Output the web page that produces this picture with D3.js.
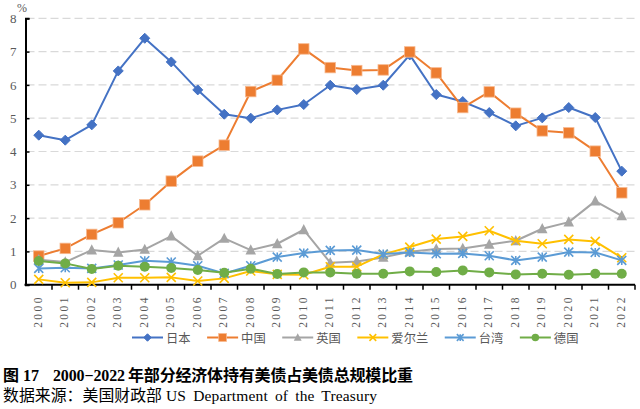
<!DOCTYPE html>
<html><head><meta charset="utf-8">
<script src="https://cdn.jsdelivr.net/npm/d3@7"></script>
<style>
html,body{margin:0;padding:0;background:#fff;}
svg{display:block;}
</style></head>
<body>
<svg id="chart" width="640" height="409"></svg>
<script>
const years = ["2000","2001","2002","2003","2004","2005","2006","2007","2008","2009","2010","2011","2012","2013","2014","2015","2016","2017","2018","2019","2020","2021","2022"];
const japan   = [4.49,4.34,4.80,6.42,7.40,6.69,5.85,5.12,5.00,5.25,5.41,5.99,5.86,5.99,6.90,5.71,5.50,5.17,4.77,5.01,5.32,5.02,3.41];
const china   = [0.86,1.09,1.51,1.86,2.40,3.11,3.71,4.19,5.80,6.14,7.08,6.52,6.43,6.45,6.99,6.36,5.32,5.79,5.15,4.62,4.56,4.01,2.76];
const uk      = [0.75,0.68,1.04,0.97,1.06,1.46,0.87,1.39,1.04,1.23,1.65,0.66,0.70,0.82,0.99,1.07,1.09,1.21,1.32,1.68,1.88,2.51,2.07];
const ireland = [0.16,0.06,0.07,0.21,0.21,0.22,0.11,0.19,0.41,0.31,0.30,0.54,0.54,0.91,1.13,1.37,1.45,1.62,1.32,1.23,1.36,1.30,0.81];
const taiwan  = [0.49,0.51,0.49,0.59,0.72,0.68,0.57,0.34,0.57,0.83,0.95,1.03,1.04,0.92,0.97,0.93,0.94,0.87,0.73,0.83,0.98,0.97,0.73];
const germany = [0.71,0.64,0.47,0.57,0.54,0.50,0.44,0.36,0.48,0.32,0.37,0.37,0.33,0.33,0.40,0.38,0.43,0.37,0.31,0.33,0.30,0.33,0.33];
const seriesNames = ["日本","中国","英国","爱尔兰","台湾","德国"];
const yTicks = [0,1,2,3,4,5,6,7,8];
const titleParts = ["图 17", "2000−2022", "年部分经济体持有美债占美债总规模比重"];
const sourceParts = ["数据来源：美国财政部", "US Department of the Treasury"];

const seriesData = [japan, china, uk, ireland, taiwan, germany];
const colors = ["#4472C4","#ED7D31","#A5A5A5","#FFC000","#5B9BD5","#70AD47"];
const markers = ["diamond","square","triangle","x","asterisk","circle"];

const svg = d3.select("#chart");
const x = d3.scaleBand().domain(years).range([25.5, 635]).padding(0);
const y = d3.scaleLinear().domain([0, 8]).range([284.7, 18.3]);
const cx = d => x(d) + x.bandwidth()/2;

// gridlines
svg.append("g").selectAll("line").data(yTicks.filter(t => t > 0)).join("line")
  .attr("x1", 26.5).attr("x2", 635)
  .attr("y1", d => y(d)).attr("y2", d => y(d))
  .attr("stroke", "#d9d9d9").attr("stroke-width", 1.2).attr("stroke-dasharray", "8,4");

// y axis
const yAxis = d3.axisLeft(y).tickValues(yTicks).tickSize(-4).tickPadding(9).tickFormat(d3.format("d"));
const gy = svg.append("g").attr("transform", "translate(25.5,0)").call(yAxis);
gy.select(".domain").attr("stroke", "#000").attr("stroke-width", 2);
gy.selectAll(".tick line").attr("stroke", "#000").attr("stroke-width", 1.5);
gy.selectAll(".tick text").attr("font-family", "'Liberation Serif', serif").attr("font-size", 13).attr("fill", "#595959");
svg.append("text").attr("x", 17).attr("y", 12).text("%")
  .attr("font-family", "'Liberation Serif', serif").attr("font-size", 12).attr("fill", "#595959");

// x axis
const gx = svg.append("g").attr("transform", "translate(0,284.7)");
gx.append("line").attr("x1", 24.5).attr("x2", 635).attr("stroke", "#000").attr("stroke-width", 2);
gx.selectAll("line.tk").data(years).join("line").attr("class","tk")
  .attr("x1", d => x(d) + x.bandwidth()).attr("x2", d => x(d) + x.bandwidth())
  .attr("y1", 0).attr("y2", 5).attr("stroke", "#000").attr("stroke-width", 1.5);
gx.selectAll("text").data(years).join("text")
  .attr("transform", d => `translate(${cx(d)+0.5},10.5) rotate(-90)`)
  .attr("text-anchor", "end").attr("dominant-baseline", "middle")
  .attr("font-family", "'Liberation Serif', serif").attr("font-size", 11.5).attr("letter-spacing", "2.4px")
  .attr("fill", "#595959").text(d => d);

// marker drawing
function drawMarker(g, type, color, size) {
  const s = size;
  if (type === "diamond") {
    g.append("path").attr("d", `M0,${-s/2}L${s/2},0L0,${s/2}L${-s/2},0Z`).attr("fill", color).attr("stroke", color).attr("stroke-width", 1);
  } else if (type === "square") {
    g.append("rect").attr("x", -s/2).attr("y", -s/2).attr("width", s).attr("height", s).attr("fill", color).attr("stroke", "#f7b98f").attr("stroke-width", 0.8);
  } else if (type === "triangle") {
    g.append("path").attr("d", `M0,${-s*0.55}L${s/2},${s*0.42}L${-s/2},${s*0.42}Z`).attr("fill", color);
  } else if (type === "x") {
    const h = s/2;
    g.append("path").attr("d", `M${-h},${-h}L${h},${h}M${-h},${h}L${h},${-h}`).attr("stroke", color).attr("stroke-width", 1.6).attr("fill","none");
  } else if (type === "asterisk") {
    const h = s/2;
    g.append("path").attr("d", `M${-h},${-h}L${h},${h}M${-h},${h}L${h},${-h}M0,${-h}L0,${h}`).attr("stroke", color).attr("stroke-width", 1.6).attr("fill","none");
  } else if (type === "circle") {
    g.append("circle").attr("r", s/2).attr("fill", color);
  }
}
const markerSizes = [10, 10.5, 10.5, 9, 9, 10];

// series
const line = d3.line().x((d,i) => cx(years[i])).y(d => y(d));
seriesData.forEach((vals, si) => {
  const g = svg.append("g");
  g.append("path").datum(vals).attr("d", line).attr("fill", "none")
    .attr("stroke", colors[si]).attr("stroke-width", 2).attr("stroke-linejoin", "round");
  vals.forEach((v, i) => {
    const mg = g.append("g").attr("transform", `translate(${cx(years[i])},${y(v)})`);
    drawMarker(mg, markers[si], colors[si], markerSizes[si]);
  });
});

// legend
const legend = svg.append("g").attr("transform", "translate(0,337.5)");
let lx = 132;
seriesNames.forEach((name, si) => {
  const g = legend.append("g").attr("transform", `translate(${lx},0)`);
  g.append("line").attr("x1", 0).attr("x2", 31).attr("stroke", colors[si]).attr("stroke-width", 2);
  const mg = g.append("g").attr("transform", "translate(15.5,0)");
  drawMarker(mg, markers[si], colors[si], markerSizes[si]*0.75);
  const t = g.append("text").attr("x", 34).attr("y", 0).attr("dominant-baseline", "central")
    .attr("font-family", "'Noto Sans CJK SC', sans-serif").attr("font-size", 12.3).attr("fill", "#595959").text(name);
  lx += 34 + t.node().getComputedTextLength() + 16.5;
});

// title
const tAttrs = sel => sel.attr("y", 380.5).attr("font-size", 16).attr("font-weight", "bold").attr("fill", "#000");
svg.append("text").call(tAttrs).attr("x", 3).attr("font-family", "'Liberation Serif', 'Noto Sans CJK SC', serif").text(titleParts[0]);
svg.append("text").call(tAttrs).attr("x", 53).attr("font-family", "'Liberation Serif', serif")
  .attr("textLength", 72).attr("lengthAdjust", "spacing").text(titleParts[1]);
svg.append("text").call(tAttrs).attr("x", 128).attr("font-family", "'Noto Sans CJK SC', sans-serif")
  .attr("textLength", 285).attr("lengthAdjust", "spacing").text(titleParts[2]);

// source
svg.append("text").attr("x", 3).attr("y", 400.5).attr("font-family", "'Noto Sans CJK SC', sans-serif")
  .attr("font-size", 15.9).attr("fill", "#000").attr("textLength", 159).attr("lengthAdjust", "spacing").text(sourceParts[0]);
svg.append("text").attr("x", 166).attr("y", 400.5).attr("font-family", "'Liberation Serif', serif")
  .attr("font-size", 15.5).attr("fill", "#000").attr("word-spacing", "3px")
  .attr("textLength", 211).attr("lengthAdjust", "spacing").text(sourceParts[1]);
</script>
</body></html>
